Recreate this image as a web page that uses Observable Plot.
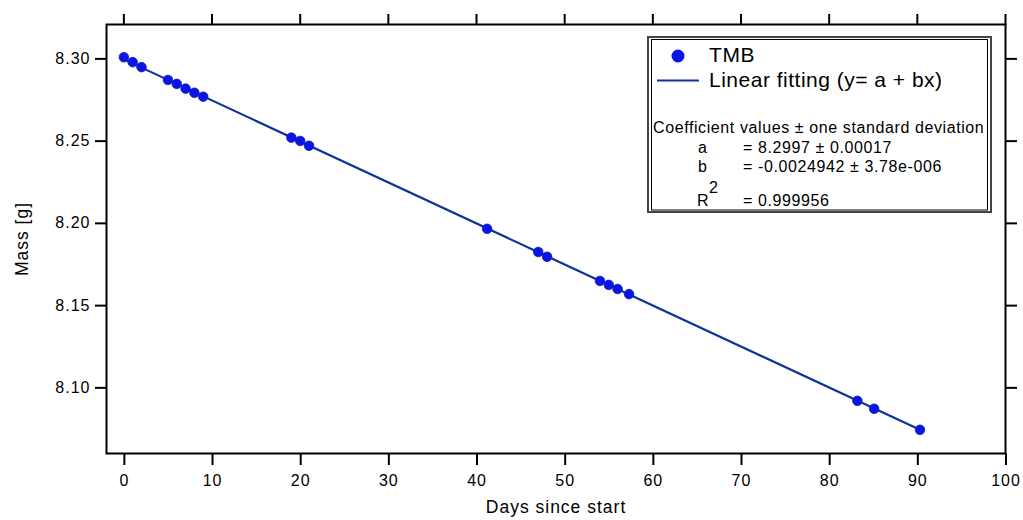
<!DOCTYPE html>
<html>
<head>
<meta charset="utf-8">
<script src="https://cdn.jsdelivr.net/npm/d3@7"></script>
<script src="https://cdn.jsdelivr.net/npm/@observablehq/plot@0.6"></script>
<style>
  html, body { margin: 0; padding: 0; background: #fff; }
  #wrap { position: relative; width: 1023px; height: 520px; font-family: "Liberation Sans", Arial, sans-serif; }
  #legend { position: absolute; left: 647px; top: 36px; }
</style>
</head>
<body>
<div id="wrap"></div>
<script>
// ---- data ----
const days = [0, 1, 2, 5, 6, 7, 8, 9, 19, 20, 21, 41.2, 47, 48, 54, 55, 56, 57.3, 83.2, 85.1, 90.3];
const mass = [8.3010, 8.2980, 8.2950, 8.2872, 8.2848, 8.2819, 8.2794, 8.2770, 8.2521, 8.2501, 8.2472,
              8.1967, 8.1826, 8.1797, 8.1650, 8.1626, 8.1601, 8.1570, 8.0921, 8.0873, 8.0745];
const fitDays = [0, 90.3];
const fitMass = [8.2997, 8.0745];
const xTicks = [0, 10, 20, 30, 40, 50, 60, 70, 80, 90, 100];
const yTicks = [8.10, 8.15, 8.20, 8.25, 8.30];
const xLabel = "Days since start";
const yLabel = "Mass [g]";
const seriesName = "TMB";
const fitName = "Linear fitting (y= a + bx)";
const coefTitle = "Coefficient values \u00b1 one standard deviation";
const coefA = "= 8.2997 \u00b1 0.00017";
const coefB = "= -0.0024942 \u00b1 3.78e-006";
const coefR2 = "= 0.999956";

const points = days.map((d, i) => ({day: d, mass: mass[i]}));
const fit = fitDays.map((d, i) => ({day: d, mass: fitMass[i]}));

const lineColor = "#0d3399";
const dotColor = "#0a14e6";

const chart = Plot.plot({
  width: 1023,
  height: 520,
  marginLeft: 106,
  marginRight: 18,
  marginTop: 24,
  marginBottom: 67,
  style: {fontFamily: "Liberation Sans, Arial, sans-serif", fontSize: "16px", letterSpacing: "1px", color: "#000", background: "#fff", overflow: "visible"},
  x: {domain: [-1.97, 100]},
  y: {domain: [8.0601, 8.3209]},
  marks: [
    Plot.axisX(xTicks, {anchor: "bottom", tickSize: 12, tickPadding: 9, strokeWidth: 2, label: null, tickFormat: d => String(d), fontSize: 16, dx: 0.5}),
    Plot.axisX(xTicks, {anchor: "top", tickSize: 11, strokeWidth: 2, label: null, tickFormat: () => ""}),
    Plot.axisY(yTicks, {anchor: "left", tickSize: 11, tickPadding: 5, strokeWidth: 2, label: null, tickFormat: d3.format(".2f"), fontSize: 16}),
    Plot.axisY(yTicks, {anchor: "right", tickSize: 11, strokeWidth: 2, label: null, tickFormat: () => ""}),
    Plot.frame({stroke: "#000", strokeWidth: 2}),
    Plot.line(fit, {x: "day", y: "mass", stroke: lineColor, strokeWidth: 2.2}),
    Plot.dot(points, {x: "day", y: "mass", r: 4.8, fill: dotColor, stroke: "#1020b0", strokeWidth: 0.8}),
    Plot.text([xLabel], {frameAnchor: "bottom", textAnchor: "middle", dy: 59, fontSize: 17.5, text: d => d}),
    Plot.text([yLabel], {frameAnchor: "left", textAnchor: "middle", dx: -84, rotate: -90, fontSize: 17.5, text: d => d})
  ]
});

const wrap = document.getElementById("wrap");
wrap.appendChild(chart);

// ---- legend box (Igor-style annotation) ----
const ns = "http://www.w3.org/2000/svg";
const lg = d3.create("svg").attr("id", "legend").attr("width", 345).attr("height", 177)
  .attr("xmlns", ns)
  .style("font-family", "Liberation Sans, Arial, sans-serif");
lg.append("rect").attr("x", 1).attr("y", 1).attr("width", 343).attr("height", 175)
  .attr("fill", "#fff").attr("stroke", "#444").attr("stroke-width", 2);
lg.append("rect").attr("x", 4.5).attr("y", 3.5).attr("width", 336).attr("height", 170.5)
  .attr("fill", "none").attr("stroke", "#000").attr("stroke-width", 1);
lg.append("circle").attr("cx", 31).attr("cy", 20).attr("r", 6.5).attr("fill", dotColor);
lg.append("line").attr("x1", 10).attr("x2", 52).attr("y1", 44.5).attr("y2", 44.5)
  .attr("stroke", lineColor).attr("stroke-width", 2);
const t = (x, y, s, size, ls) => lg.append("text").attr("x", x).attr("y", y)
  .attr("font-size", size).attr("letter-spacing", ls).attr("fill", "#000").text(s);
t(62, 26, seriesName, 21, 0.6);
t(62, 51, fitName, 21, 0.5);
t(6, 97, coefTitle, 16, 0.6);
t(51, 117, "a", 16, 0.6);
t(96, 117, coefA, 16, 0.6);
t(51, 136, "b", 16, 0.6);
t(96, 136, coefB, 16, 0.6);
t(50, 170, "R", 16, 0.6);
t(62, 157, "2", 16, 0.6);
t(96, 170, coefR2, 16, 0.6);
wrap.appendChild(lg.node());
</script>
</body>
</html>
